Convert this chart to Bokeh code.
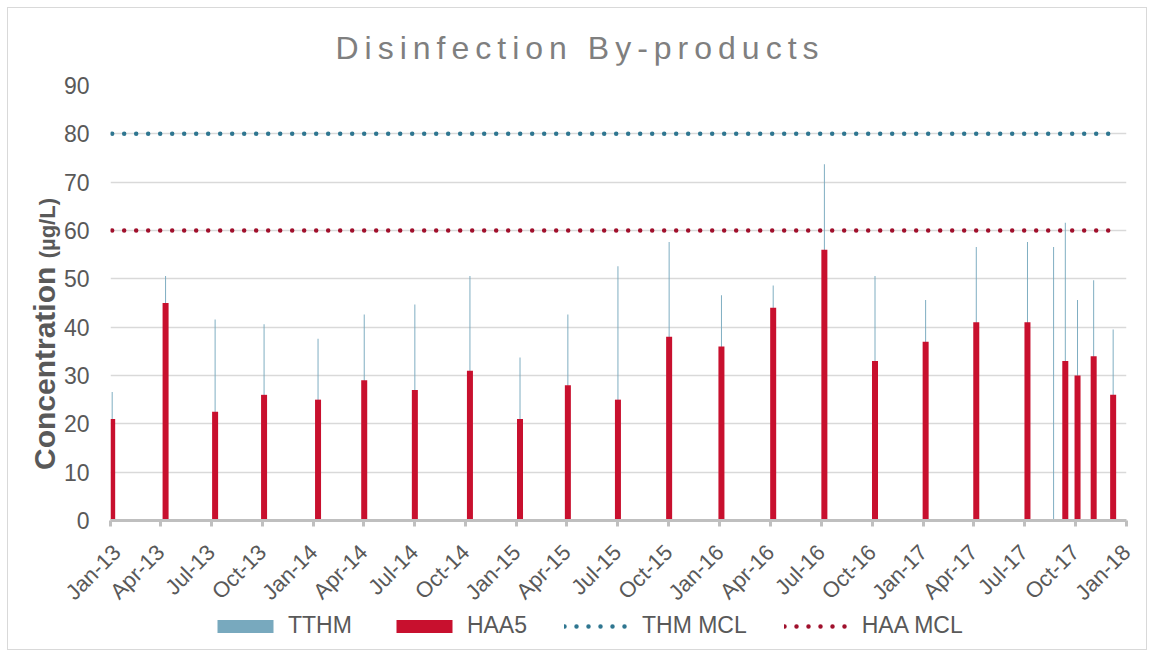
import math
import pandas as pd
from bokeh.plotting import figure
from bokeh.models import (Range1d, ColumnDataSource, Legend, LegendItem, Div,
                          DatetimeTickFormatter, MonthsTicker, FixedTicker)
from bokeh.layouts import column, row
from bokeh.embed import file_html
from bokeh.resources import INLINE

# ---------------- data ----------------
title_text = "Disinfection By-products"
y_label_main = "Concentration"
y_label_unit = "(µg/L)"

sample_dates = ["2013-01-04", "2013-04-10", "2013-07-08", "2013-10-04",
                "2014-01-09", "2014-04-02", "2014-07-02", "2014-10-09",
                "2015-01-07", "2015-04-03", "2015-07-02", "2015-10-02",
                "2016-01-04", "2016-04-06", "2016-07-07", "2016-10-06",
                "2017-01-05", "2017-04-06", "2017-07-07", "2017-08-23",
                "2017-09-13", "2017-10-05", "2017-11-03", "2017-12-08"]
tthm = [26.6, 50.6, 41.6, 40.6, 37.6, 42.6, 44.7, 50.6, 33.7, 42.6, 52.6, 57.6,
        46.6, 48.6, 73.7, 50.6, 45.6, 56.6, 57.6, 56.6, 61.6, 45.6, 49.7, 39.5]
haa5 = [21.0, 45.0, 22.5, 26.0, 25.0, 29.0, 27.0, 31.0, 21.0, 28.0, 25.0, 38.0,
        36.0, 44.0, 56.0, 33.0, 37.0, 41.0, 41.0, None, 33.0, 30.0, 34.0, 26.0]
thm_mcl = 80
haa_mcl = 60
y_ticks = [0, 10, 20, 30, 40, 50, 60, 70, 80, 90]
legend_labels = ["TTHM", "HAA5", "THM MCL", "HAA MCL"]
x_start = "2013-01-01"
x_end = "2018-01-01"

# ---------------- colours / styles ----------------
TEXT = "#595959"
GRID = "#d9d9d9"
AXIS = "#bfbfbf"
TTHM_C = "#78a9be"
HAA5_C = "#c8102e"
THM_MCL_C = "#2f7690"
HAA_MCL_C = "#a0102c"
FONT = "Liberation Sans"

dates = pd.to_datetime(sample_dates)
DAY_MS = 86400000

src_tthm = ColumnDataSource(dict(date=dates, val=tthm))
haa_idx = [i for i, v in enumerate(haa5) if v is not None]
src_haa = ColumnDataSource(dict(date=dates[haa_idx], val=[haa5[i] for i in haa_idx]))
src_mcl = ColumnDataSource(dict(date=dates, thm=[thm_mcl] * len(dates),
                                haa=[haa_mcl] * len(dates)))

TTHM_STYLE = dict(fill_color=TTHM_C, line_color=None)
HAA5_STYLE = dict(fill_color=HAA5_C, line_color=None)
THM_LINE = dict(line_color=THM_MCL_C, line_width=4.5, line_dash="0 12", line_cap="round")
HAA_LINE = dict(line_color=HAA_MCL_C, line_width=4.5, line_dash="0 12", line_cap="round")


def add_series(fig):
    r1 = fig.vbar(x="date", top="val", bottom=0, width=1.7 * DAY_MS, source=src_tthm,
                  **TTHM_STYLE)
    r2 = fig.vbar(x="date", top="val", bottom=0, width=10.8 * DAY_MS, source=src_haa,
                  **HAA5_STYLE)
    r3 = fig.line(x="date", y="thm", source=src_mcl, **THM_LINE)
    r4 = fig.line(x="date", y="haa", source=src_mcl, **HAA_LINE)
    return [r1, r2, r3, r4]


# ---------------- main chart ----------------
p = figure(x_axis_type="datetime", output_backend="svg", toolbar_location=None,
           width=1086, height=584,
           x_range=Range1d(pd.Timestamp(x_start), pd.Timestamp(x_end)),
           y_range=Range1d(0, 90),
           min_border_left=49, min_border_right=20, min_border_top=20,
           min_border_bottom=129,
           background_fill_color="white", border_fill_color="white",
           outline_line_color=None)
add_series(p)

xa = p.xaxis[0]
xa.ticker = MonthsTicker(months=[0, 3, 6, 9])
xa.formatter = DatetimeTickFormatter(days="%b-%y", months="%b-%y", years="%b-%y")
xa.major_label_orientation = math.pi / 4
xa.major_label_text_font = FONT
xa.major_label_text_font_size = "22px"
xa.major_label_text_color = TEXT
xa.major_label_standoff = 22
xa.axis_line_color = AXIS
xa.axis_line_width = 3
xa.major_tick_line_color = AXIS
xa.major_tick_line_width = 3
xa.major_tick_out = 6
xa.major_tick_in = 0
xa.minor_tick_line_color = None

ya = p.yaxis[0]
ya.ticker = FixedTicker(ticks=y_ticks)
ya.axis_line_color = None
ya.major_tick_line_color = None
ya.major_tick_out = 0
ya.major_tick_in = 0
ya.minor_tick_line_color = None
ya.major_label_text_font = FONT
ya.major_label_text_font_size = "23px"
ya.major_label_text_color = TEXT
ya.major_label_standoff = 21

p.xgrid.grid_line_color = None
p.ygrid.ticker = FixedTicker(ticks=y_ticks)
p.ygrid.grid_line_color = GRID
p.ygrid.grid_line_width = 1.5

# ---------------- y axis title (two font sizes) ----------------
ylabel_div = Div(
    text=('<div style="position:relative; width:52px; height:584px;">'
          '<div style="position:absolute; left:22px; top:405px; transform-origin:0 0; '
          'transform:rotate(-90deg); white-space:nowrap; font-family:\'Liberation Sans\'; '
          'font-weight:bold; font-size:30px; line-height:1; color:#595959;">'
          + y_label_main + ' <span style="font-size:22px;">' + y_label_unit +
          '</span></div></div>'),
    width=52, height=584, margin=(0, 0, 0, 0))

# ---------------- legend strip below the chart ----------------
# same series drawn in a strip whose ranges keep the marks out of view;
# only its legend is visible
lg = figure(output_backend="svg", toolbar_location=None, width=1138, height=40,
            x_range=Range1d(0, 1), y_range=Range1d(0, 1),
            min_border_left=0, min_border_right=0, min_border_top=0, min_border_bottom=0,
            background_fill_alpha=0, border_fill_alpha=0, outline_line_color=None,
            margin=(-40, 0, 0, 0))
lg.axis.visible = False
lg.grid.visible = False
lg_renderers = add_series(lg)

legend = Legend(items=[LegendItem(label=lab, renderers=[r])
                       for lab, r in zip(legend_labels, lg_renderers)],
                orientation="horizontal", location=(202, 10),
                label_text_font=FONT, label_text_font_size="23px", label_text_color=TEXT,
                glyph_width=70, glyph_height=16, label_standoff=8, spacing=37,
                padding=0, margin=0, border_line_color=None, background_fill_alpha=0)
lg.add_layout(legend)

title_div = Div(text=('<div style="width:1138px; text-align:center; '
                      'font-family:\'Liberation Sans\'; font-size:32px; line-height:1; '
                      'letter-spacing:6px; color:#7f7f7f; padding-top:24px; '
                      'padding-left:6px; box-sizing:border-box; white-space:nowrap;">'
                      + title_text + '</div>'),
                width=1138, height=57, margin=(0, 0, 0, 0))

layout = column(title_div, row(ylabel_div, p), lg, margin=(7, 7, 7, 7),
                styles={"border": "1px solid #d9d9d9"})

with open("out.html", "w") as f:
    f.write(file_html(layout, INLINE))
